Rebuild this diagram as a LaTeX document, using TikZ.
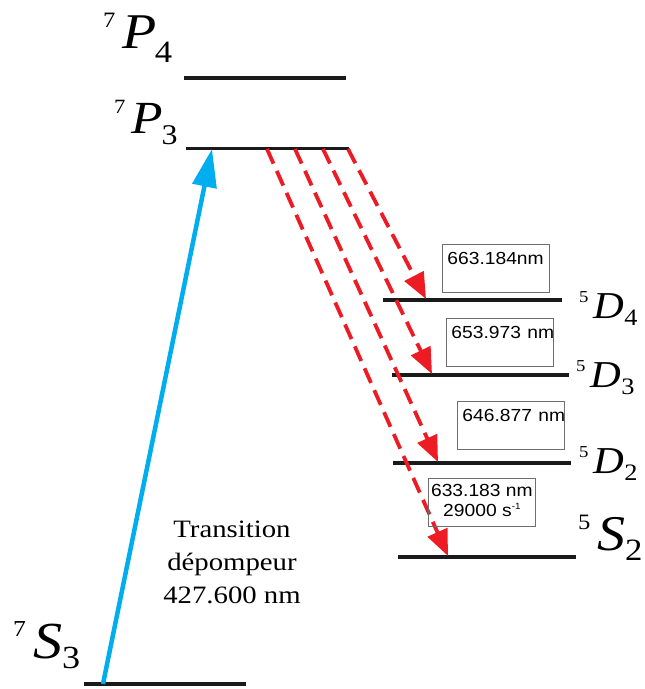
\documentclass[tikz,border=0pt]{standalone}
\usepackage{fontspec}
\usepackage{graphicx}
\setmainfont{Liberation Serif}
\newfontfamily\boxfont{Liberation Sans}
\usetikzlibrary{arrows.meta}
\definecolor{levelc}{HTML}{1A1A1A}
\definecolor{pumpc}{HTML}{00AEEF}
\definecolor{decayc}{HTML}{ED1C24}
\definecolor{framec}{HTML}{6E6E6E}

% #1 letter size (pt), #2 sup, #3 letter, #4 sub, #5 kern factor, #6 drop factor
\newcommand\termlab[6]{%
  \pgfmathsetmacro\tsup{0.44*#1}\pgfmathsetmacro\tsub{0.62*#1}%
  \scalebox{1.12}[1]{%
    \raisebox{0.42\dimexpr#1pt\relax}{\fontsize{\tsup pt}{\tsup pt}\selectfont #2}%
    \hspace{0.12\dimexpr#1pt\relax}%
    {\fontsize{#1pt}{#1pt}\selectfont\itshape #3}%
    \kern#5\dimexpr#1pt\relax
    \raisebox{-#6\dimexpr#1pt\relax}{\fontsize{\tsub pt}{\tsub pt}\selectfont #4}}}

\tikzset{
  level/.style={draw=levelc, line width=3.5pt},
  pump/.style={draw=pumpc, line width=4.5pt, -{Triangle[length=38pt,width=24pt]}},
  decay/.style={draw=decayc, line width=3.8pt, dash pattern=on 16pt off 8pt,
    -{Triangle[length=26pt,width=21pt]}},
  wbox/.style={draw=framec, line width=0.8pt, inner xsep=5pt, inner ysep=0pt,
    text width=97pt, align=left, anchor=north west,
    font=\boxfont\fontsize{17.5}{20}\selectfont, text height=20pt, text depth=28pt},
  wboxtwo/.style={draw=framec, line width=0.8pt, inner sep=0pt, anchor=north west,
    minimum width=107pt, minimum height=48pt,
    font=\boxfont\fontsize{17.5}{20}\selectfont},
  term/.style={anchor=base west, inner sep=0pt},
  trans/.style={anchor=north, inner sep=0pt, font=\fontsize{25}{33}\selectfont}
}

\begin{document}
\begin{tikzpicture}[x=1pt, y=-1pt]
\useasboundingbox (0,0) rectangle (645,689);

% level end points
\coordinate (P4a) at (184,78);  \coordinate (P4b) at (346,78);
\coordinate (P3a) at (186,148); \coordinate (P3b) at (349,148);
\coordinate (D4a) at (383,300); \coordinate (D4b) at (562,300);
\coordinate (D3a) at (392,375); \coordinate (D3b) at (569,375);
\coordinate (D2a) at (393,463); \coordinate (D2b) at (571,463);
\coordinate (S2a) at (398,557); \coordinate (S2b) at (576,557);
\coordinate (S3a) at (84,684);  \coordinate (S3b) at (246,684);

\draw[level, line width=4.5pt] (P4a) -- (P4b);
\draw[level, line width=3pt] (P3a) -- (P3b);
\draw[level] (D4a) -- (D4b);
\draw[level] (D3a) -- (D3b);
\draw[level] (D2a) -- (D2b);
\draw[level] (S2a) -- (S2b);
\draw[level, line width=4.5pt] (S3a) -- (S3b);

% level labels
\node[term] (lP4) at (103,48)  {\termlab{50}{7}{P}{4}{-0.03}{0.28}};
\node[term] (lP3) at (114,133) {\termlab{46}{7}{P}{3}{-0.03}{0.26}};
\node[term] (lD4) at (579,318) {\termlab{38}{5}{D}{4}{0}{0.2}};
\node[term] (lD3) at (576,387) {\termlab{38}{5}{D}{3}{0}{0.2}};
\node[term] (lD2) at (579,473) {\termlab{38}{5}{D}{2}{0}{0.2}};
\node[term] (lS2) at (578,550) {\termlab{50}{5}{S}{2}{0}{0.2}};
\node[term] (lS3) at (13,658)  {\termlab{52}{7}{S}{3}{0}{0.2}};

% pump transition
\coordinate (pS) at (103,684);
\coordinate (pT) at (212,149);
\draw[pump] (pS) -- (pT);
\node[trans] (tr) at (232,514) {\scalebox{1.15}[1]{\begin{tabular}{@{}c@{}}Transition\\d\'epompeur\\427.600 nm\end{tabular}}};

% decay transitions
\coordinate (r1s) at (348,149); \coordinate (r1e) at (426,299);
\coordinate (r2s) at (323,149); \coordinate (r2e) at (432,374);
\coordinate (r3s) at (295,149); \coordinate (r3e) at (438,462);
\coordinate (r4s) at (267,149); \coordinate (r4e) at (448,556);
\draw[decay] (r1s) -- (r1e);
\draw[decay] (r2s) -- (r2e);
\draw[decay] (r3s) -- (r3e);
\draw[decay] (r4s) -- (r4e);

% wavelength boxes
\node[wbox] (b1) at (442,244) {\scalebox{1.1}[1]{663.184nm}};
\node[wbox] (b2) at (446,318) {\scalebox{1.1}[1]{653.973 nm}};
\node[wbox] (b3) at (457,401) {\scalebox{1.1}[1]{646.877 nm}};
\node[wboxtwo] (b4) at (428,478) {\scalebox{1.1}[1]{\begin{tabular}{@{}c@{}}633.183 nm\\29000 s\raisebox{7pt}{\fontsize{9}{9}\selectfont -1}\end{tabular}}};
\end{tikzpicture}
\end{document}
